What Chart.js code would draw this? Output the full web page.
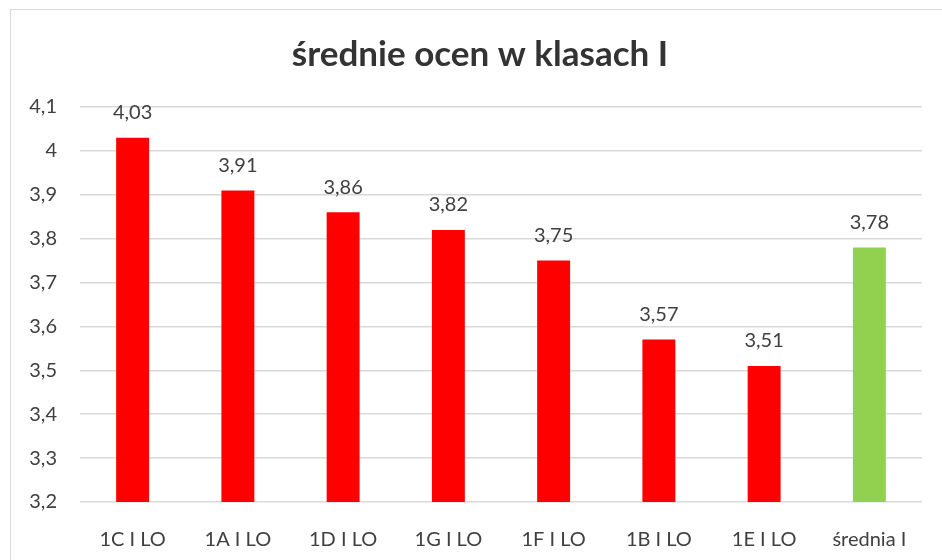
<!DOCTYPE html>
<html>
<head>
<meta charset="utf-8">
<script src="https://cdn.jsdelivr.net/npm/chart.js@4"></script>
<style>
  html, body { margin: 0; padding: 0; background: #fff; }
  #wrap { width: 942px; height: 560px; }
</style>
</head>
<body>
<div id="wrap"><canvas id="chart" width="942" height="560"></canvas></div>
<script>
const categories = ["1C I LO", "1A I LO", "1D I LO", "1G I LO", "1F I LO", "1B I LO", "1E I LO", "średnia I"];
const averages = [4.03, 3.91, 3.86, 3.82, 3.75, 3.57, 3.51, 3.78];
const barColors = ["#ff0000", "#ff0000", "#ff0000", "#ff0000", "#ff0000", "#ff0000", "#ff0000", "#92d050"];
const yMin = 3.2;
const yMax = 4.1;
const titleText = "średnie ocen w klasach I";

const FONT = "Lato, 'Open Sans', sans-serif";

function plComma(v) {
  return String(parseFloat(v.toFixed(2))).replace(".", ",");
}

// grey frame + title (centred on the whole chart box, like Excel)
const frame = {
  id: "frame",
  beforeDraw(chart) {
    const ctx = chart.ctx;
    ctx.save();
    ctx.strokeStyle = "#d9d9d9";
    ctx.lineWidth = 1;
    ctx.strokeRect(10.5, 9.5, 1000, 1000);
    ctx.font = "bold 35px " + FONT;
    ctx.fillStyle = "#333333";
    ctx.textAlign = "center";
    ctx.textBaseline = "middle";
    ctx.fillText(titleText, 480, 55);
    ctx.restore();
  }
};

// value labels above bars
const valueLabels = {
  id: "valueLabels",
  afterDatasetsDraw(chart) {
    const ctx = chart.ctx;
    const meta = chart.getDatasetMeta(0);
    ctx.save();
    ctx.font = "20px " + FONT;
    ctx.fillStyle = "#404040";
    ctx.textAlign = "center";
    ctx.textBaseline = "middle";
    meta.data.forEach((bar, i) => {
      ctx.fillText(plComma(averages[i]), bar.x, bar.y - 25);
    });
    ctx.restore();
  }
};

new Chart("chart", {
  type: "bar",
  data: {
    labels: categories,
    datasets: [{
      data: averages,
      backgroundColor: barColors,
      borderWidth: 0,
      barPercentage: 0.313,
      categoryPercentage: 1
    }]
  },
  options: {
    responsive: false,
    animation: false,
    layout: { padding: { left: 0, right: 20, top: 107, bottom: 0 } },
    plugins: {
      legend: { display: false },
      tooltip: { enabled: false },
      title: { display: false }
    },
    scales: {
      x: {
        grid: { display: false },
        border: { display: false },
        ticks: {
          color: "#404040",
          font: { family: FONT, size: 20 },
          padding: 18,
          maxRotation: 0
        },
        afterFit(s) { s.height = 58; }
      },
      y: {
        min: yMin,
        max: yMax,
        border: { display: false },
        grid: { color: "#d9d9d9", lineWidth: 1.5, drawTicks: false },
        ticks: {
          stepSize: 0.1,
          color: "#404040",
          font: { family: FONT, size: 20 },
          padding: 23,
          callback: (v) => plComma(v)
        },
        afterFit(s) { s.width = 80; }
      }
    }
  },
  plugins: [frame, valueLabels]
});
</script>
</body>
</html>
